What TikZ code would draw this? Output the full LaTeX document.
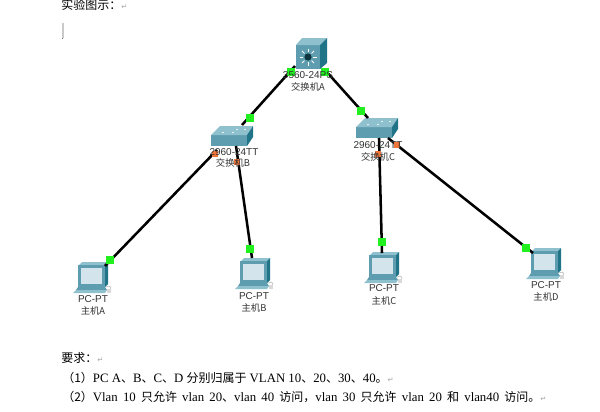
\documentclass[tikz,border=0pt]{standalone}
\usepackage{fontspec}
\setmainfont{Liberation Serif}
\setsansfont{Liberation Sans}
\newfontfamily\cjk{Noto Sans CJK SC}
\newfontfamily\retfont{DejaVu Sans}
\definecolor{devface}{HTML}{5E9DB0}
\definecolor{devtop}{HTML}{8FC0CE}
\definecolor{devside}{HTML}{1F7488}
\definecolor{screen}{HTML}{D3E4EC}
\definecolor{linkup}{HTML}{22F01E}
\definecolor{linkwait}{HTML}{F0763A}
\newcommand{\ret}{{\retfont\fontsize{5.5}{6}\selectfont\textcolor{gray!70}{↵}}}
\newcommand{\zh}[1]{{\cjk\fontsize{9}{11}\selectfont #1}}
\tikzset{
  x=0.75pt,y=-0.75pt,
  devlabel/.style={font=\sffamily\fontsize{7.5}{8}\selectfont,text=black!80,inner sep=0pt,anchor=center},
  cjklabel/.style={font=\cjk\fontsize{7}{8}\selectfont,text=black!80,inner sep=0pt,anchor=center},
  para/.style={font=\fontsize{9.6}{11}\selectfont,inner sep=0pt,anchor=west},
  link/.style={draw=black,line width=1.9pt},
  dotup/.style={fill=linkup,draw=none,minimum size=5.6pt,inner sep=0pt,rectangle},
  dotwait/.style={fill=linkwait,draw=none,minimum size=5pt,inner sep=0pt,rectangle},
  % 2960 access switch, origin at the upper left of its bounding area
  flatswitch/.pic={
    \fill[devface] (0,9) -- (36,9) -- (36,20) -- (0,20) -- cycle;
    \fill[devtop] (0,9) -- (9,0) -- (42,0) -- (36,9) -- cycle;
    \fill[devside] (36,9) -- (42,0) -- (42,11) -- (36,20) -- cycle;
    \foreach \p/\q in {11/6,21/6,25/3,33/3}
      \fill[white,opacity=.8] (\p,\q) rectangle ++(2,1);
  },
  % 3560 multilayer switch
  coreswitch/.pic={
    \fill[devface] (0,7) -- (24,7) -- (24,31) -- (0,31) -- cycle;
    \fill[devtop] (0,7) -- (6,0) -- (31,0) -- (24,7) -- cycle;
    \fill[devside] (24,7) -- (31,0) -- (31,25) -- (24,31) -- cycle;
    \foreach \a in {0,45,...,315}
      \draw[white,line width=.6pt] (12,19) ++(\a:5) -- ++(\a:3.5);
    \fill[black!55!devside] (12,19) circle[radius=3.6];
  },
  % desktop computer with keyboard
  desktop/.pic={
    \fill[devtop] (6,3) -- (9,0) -- (35,0) -- (32,3) -- cycle;
    \fill[devface] (5,3) -- (32,3) -- (32,25) -- (5,25) -- cycle;
    \fill[devside] (32,3) -- (35,0) -- (35,22) -- (32,25) -- cycle;
    \fill[screen] (8,6) rectangle (29,22);
    \fill[devface] (5,25) -- (32,25) -- (34,28) -- (3,28) -- cycle;
    \fill[devtop] (3,28) -- (34,28) -- (32,31) -- (0,31) -- cycle;
    \draw[black!25,line width=.5pt] (33,25) .. controls (38,22) and (40,27) .. (35,30);
    \fill[black!15] (34,27) rectangle (38,31);
  },
}
\begin{document}
\begin{tikzpicture}
\useasboundingbox (0,0) rectangle (600,411);
\clip (0,0) rectangle (600,411);
\fill[white] (0,0) rectangle (600,411);

% heading and text caret
\node[para] (heading) at (61,5) {\zh{实验图示：}\ret};
\draw[black!60,line width=.5pt] (63,23) -- (63,38) -- (62,39);

% device icons
\pic at (296,38) {coreswitch};
\pic at (211,126) {flatswitch};
\pic at (356,118) {flatswitch};
\pic at (73,262) {desktop};
\pic at (235,258) {desktop};
\pic at (364,252) {desktop};
\pic at (526,248) {desktop};

% cable ends on the devices
\coordinate (coreL) at (295,66);
\coordinate (coreR) at (325,70);
\coordinate (swBtop) at (242,125);
\coordinate (swBleft) at (217,150);
\coordinate (swBright) at (236,146);
\coordinate (swCtop) at (368,118);
\coordinate (swCdown) at (379,138);
\coordinate (swCright) at (388,138);
\coordinate (hostA) at (105,266);
\coordinate (hostB) at (252,258);
\coordinate (hostC) at (382,253);
\coordinate (hostD) at (533,253);

% cables
\draw[link] (coreL) -- (swBtop);
\draw[link] (coreR) -- (swCtop);
\draw[link] (swBleft) -- (hostA);
\draw[link] (swBright) -- (hostB);
\draw[link] (swCdown) -- (hostC);
\draw[link] (swCright) -- (hostD);

% link state markers
\node[dotup] (lampA1) at (291,72) {};
\node[dotup] (lampA2) at (325,72) {};
\node[dotup] (lampB0) at (250,118) {};
\node[dotup] (lampC0) at (361,111) {};
\node[dotwait] (lampB1) at (215,154) {};
\node[dotwait] (lampB2) at (237,162) {};
\node[dotwait] (lampC1) at (378,154) {};
\node[dotwait] (lampC2) at (397,145) {};
\node[dotup] (lampHA) at (110,260) {};
\node[dotup] (lampHB) at (250,249) {};
\node[dotup] (lampHC) at (382,242) {};
\node[dotup] (lampHD) at (526,248) {};

% device labels
\node[devlabel] (lA1) at (308,75) {3560-24PS};
\node[cjklabel] (lA2) at (308,87) {交换机A};
\node[devlabel] (lB1) at (234,152) {2960-24TT};
\node[cjklabel] (lB2) at (233,163) {交换机B};
\node[devlabel] (lC1) at (378,145) {2960-24TT};
\node[cjklabel] (lC2) at (378,157) {交换机C};
\node[devlabel] (lH1) at (93,299) {PC-PT};
\node[cjklabel] (lH2) at (93,311) {主机A};
\node[devlabel] (lH3) at (254,296) {PC-PT};
\node[cjklabel] (lH4) at (254,308) {主机B};
\node[devlabel] (lH5) at (384,288) {PC-PT};
\node[cjklabel] (lH6) at (384,301) {主机C};
\node[devlabel] (lH7) at (546,285) {PC-PT};
\node[cjklabel] (lH8) at (546,297) {主机D};

% requirements
\node[para] (req0) at (61,358) {\zh{要求：}\ret};
\node[para] (req1) at (62,378) {\zh{（1）}PC A\zh{、}B\zh{、}C\zh{、}D \zh{分别归属于} VLAN 10\zh{、}20\zh{、}30\zh{、}40\zh{。}\ret};
\node[para] (req2) at (62,397) {\spaceskip=3.9pt\zh{（2）}Vlan 10 \zh{只允许} vlan 20\zh{、}vlan 40 \zh{访问，}vlan 30 \zh{只允许} vlan 20 \zh{和} vlan40 \zh{访问。}\ret};
\end{tikzpicture}
\end{document}
